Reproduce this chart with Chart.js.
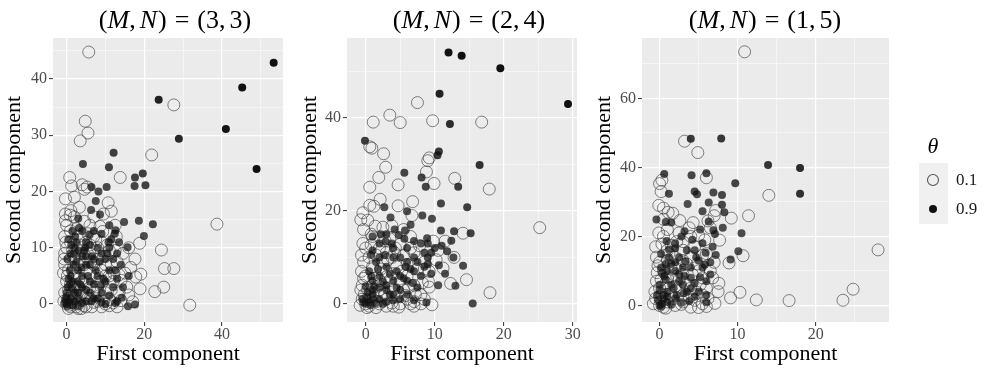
<!DOCTYPE html>
<html>
<head>
<meta charset="utf-8">
<script src="https://cdn.jsdelivr.net/npm/chart.js@4.4.1/dist/chart.umd.min.js"></script>
<style>
  html, body { margin: 0; padding: 0; background: #fff; }
  #wrap { position: relative; width: 987px; height: 370px; overflow: hidden; }
  #wrap canvas { position: absolute; top: 0; }
</style>
</head>
<body>
<div id="wrap">
  <canvas id="c1" width="296" height="370" style="left:0px"></canvas>
  <canvas id="c2" width="294" height="370" style="left:296px"></canvas>
  <canvas id="c3" width="397" height="370" style="left:590px"></canvas>
</div>
<script>
// ---- data ----
const panelMN = [[3, 3], [2, 4], [1, 5]];
const thetaLabels = ['0.1', '0.9'];

const p1XTicks = [0, 20, 40];
const p1YTicks = [0, 10, 20, 30, 40];
const p2XTicks = [0, 10, 20, 30];
const p2YTicks = [0, 20, 40];
const p3XTicks = [0, 10, 20];
const p3YTicks = [0, 20, 40, 60];

// theta = 0.1 (open circles) / theta = 0.9 (filled), [first, second]
const p1Low = [
  [5.7,44.8],[27.6,35.4],[4.8,32.5],[5.5,30.4],[3.5,29],[21.9,26.5],[13.8,22.5],[0.8,22.5],[1.3,21],[4,21.2],
  [4.6,20.4],[5.3,20.8],[-0.3,18.7],[2,19],[10.7,18],[3.3,17.2],[1.1,16.6],[0.9,15.8],[4.6,14.7],[-0.3,14.8],
  [2.6,13.4],[8.6,13.8],[9.3,12.9],[12.5,14],[38.7,14.2],[24.4,9.6],[25.2,6.3],[27.6,6.3],[18.8,10.8],[17.6,8],
  [19.1,5.3],[17.8,4.8],[18.9,2.7],[22.7,2.2],[25,3],[31.7,-0.2],[13.5,5.2],[12.2,5.5],[14,4.2],[14,0.6],
  [16,1.6],[17,0.4],[11.5,2.5],[9.5,0.5],[15.5,3],[13,7.5],[10.5,10.5],[7.5,11.5],
  [0,10],[-0.5,9],[-0.6,8],[1,11],[3,12],[5,11],[7,12],[6,9],[9,11],[11,9.5],[12.8,12],[-0.5,7],
  [1,8],[3,7],[5,6],[7,7],[9,6],[11,5],[0,4],[2,3],[4,2],[6,1],[8,0.5],[10,0],[12,0.2],[0,0],
  [1,-0.5],[3,0],[5,-0.5],[7,0.3],[-0.5,2],[2,5],[4,4],[6,3],[8,3],[10,2],[1,13],[-0.5,12],[-0.3,16],
  [0.5,6],[1.5,2],[2.5,-0.5],[3.5,1.5],[4.5,-0.3],[6.5,-0.5],[8.5,1.5],[9,4],[11,0.8],[2,8.5],[4,9.5],
  [0.3,1],[1,3.5],[-0.7,0.5],[0.5,-0.8],[2,1],[3,3],[5,2],[6,5.5],[8,8],[10,7],[4.5,7],[12,4],
  [0.2,5],[1.8,6.5],[3.2,4.5],[4.8,8.5],[6.2,7.5],[7.8,5],[9.5,8.5],[11.5,7],[12.5,9.5],[13.5,2],
  [15,5.5],[16.5,6.5],[0.5,2.5],[2.5,1.5],[5.5,1],[7,2],[8.5,4],[10,5],[1.5,9.5],[3.5,10.5],
  [5.5,12.5],[0,14],[2,15.5],[6,14],[8,10],[-0.8,5.5],[-0.2,11],[1.2,0.3],[3.8,-0.8],[9,-0.5],
  [11,-0.3],[13,-0.5],[14.5,9],[16,10],[7,15.5],[9.5,16],[11.5,16.5],[3,-0.8],[0.8,-0.2],[6,10.5]
];
const p1High = [
  [53.3,42.9],[45.2,38.5],[23.7,36.3],[41,31.1],[28.9,29.4],[48.9,24],[12.1,26.9],[4.2,24.9],[10.9,24.3],[17.6,22.5],
  [19.6,23.2],[17.5,21],[20.3,21.1],[6.4,20.8],[8.2,20],[10.3,20.8],[7.5,18.3],[6.3,16.7],[8.6,15.9],[12.6,13.1],
  [14.8,14.6],[18.6,14.8],[22.2,14.2],[19.9,12.1],[3,15.2],[15.7,10.1],[12.4,12.5],[10.8,11],[14.2,1.1],[15.8,-0.4],
  [17.6,-0.1],[1,9],[2,10],[3,9.5],[4,8.5],[5,8.5],[6,10.5],[3,6],[5,7],[7,8],[9,9],[10,8],[11,10],[12,8],
  [13,9],[14,7],[8,5],[6,4],[4,3],[2,2],[0,0],[1,1],[0.5,0.3],[2,0.5],[3,1],[5,0.5],[7,1],[9,2],[10,4],
  [12,3],[6,2],[4,5],[1,5],[0,2],[0.3,3],[0.8,6],[1.5,13],[7,13],[9,12.5],[11,14],[5,11],[8,1],[13,0.5],
  [4,13],[2.5,11],[10,0],[-0.3,0.8],[0.2,-0.3],[1.5,-0.2],[3.5,3.5],[5.5,5],[7,3.5],[2.5,7.5],[0.5,11.5],
  [1.5,4],[4,0.2],[6,7],[8,10],[11,6],[12.5,0.2],[3,2],
  [0.8,3.5],[1.8,7],[2.8,4],[3.8,6.5],[4.8,10],[6.5,8.5],[7.5,6],[8.5,7.5],[9.5,4.5],[10.5,9],
  [11.5,11.5],[12.5,6],[13.5,11],[0.2,8],[1.2,10.5],[2.2,12],[3.2,13.5],[0.5,4.5],[1.5,2.8],[3,-0.3],
  [5,2.5],[6.5,0.5],[9,0.3],[11,1.5],[13,4.5],[14.5,3],[16,5],[0,1.2],[-0.5,0.2],[2,8.8],[4.5,9.5],
  [5.8,12.3],[8.8,3.3]
];

const p2Low = [
  [25.2,16.4],[7.5,43.3],[3.5,40.6],[1.1,39.1],[5,39],[9.7,39.4],[16.8,39.1],[0.6,33.8],[0.9,33.5],[2.6,32.3],
  [2.9,29.4],[9,30.8],[9.2,31.4],[8.8,28.4],[9.9,25.9],[4.7,25.6],[0.6,25.1],[1.9,27.2],[12.9,27],[17.9,24.7],
  [2.1,22.5],[0.6,21.2],[1.2,21],[4.7,21.1],[6.8,22],[-0.4,19.6],[-0.7,18.1],[0.3,18],[1.4,16.7],[2.5,16.5],
  [3.8,16.8],[6.7,19],[-0.3,16],[-0.4,13],[0.8,12.7],[2.8,13.6],[4.3,12],[6.5,12],[7,11],[14.1,15.2],
  [12.8,10],[11.2,7.7],[12.3,4.4],[14.6,5.2],[18,2.4],[9.2,3.6],[9.1,4.8],[9.6,-0.2],[9.8,13.5],[8.5,7.5],[5.5,16],
  [0,0],[-0.5,1],[0.5,-0.5],[1,2],[2,0],[3,1],[4,-0.5],[5,0],[6,1],[7,0.5],[-0.5,4],[0,6],[1,8],[-0.3,9],
  [2,5],[3,7],[4,3],[5,5],[6,6],[7,4],[8,2],[7.5,7.5],[8.5,9],[5.5,10.5],[3,11],[1.5,10.5],[0,12],[-0.7,3],
  [1,4],[2,3],[3.5,5],[8,0],[6.5,0],[-0.6,7],[0.5,10],[2.5,9],[4.5,8],[6,8.5],[3,-0.5],[1.5,-0.8],[4.5,1.5],
  [5.5,3],[-0.2,2],[0.8,0.8],[2.3,1.8],[1,14.5],[3.5,14],
  [0.3,3],[1.2,5.5],[2.2,7.5],[3.2,9.5],[4.2,11],[5.2,7],[6.2,3.5],[7.2,2],[8.2,4.5],[9.2,7],
  [10.2,9.5],[0.8,15],[2,12],[3.8,10],[5,12.8],[6.5,14.5],[7.8,12.5],[10.5,11.5],[11.5,13.5],[-0.6,10.5],
  [-0.3,5.5],[0.4,1.5],[1.6,0.5],[2.8,2.2],[3.8,0.2],[4.8,-0.7],[5.8,1.8],[7,-0.5],[8.5,1],[1.8,3.8],
  [3,5.8],[-0.8,-0.3],[0.2,-0.8],[4,6.5]
];
const p2High = [
  [29.3,43],[12,54.1],[13.9,53.4],[19.5,50.7],[10.7,45.2],[12.2,38.7],[-0.1,35.1],[10.6,32.8],[10.4,32],[16.5,29.9],
  [5.6,28.2],[8.1,27.2],[8.7,25.2],[13.4,25.2],[10.9,21.6],[14.7,20.8],[2.7,20.8],[6,19.9],[8.2,19],[9.6,18.3],
  [3.6,18.6],[4.2,16],[5.7,15.8],[10.9,15.8],[12.8,15.6],[15.2,15.2],[8.9,14.1],[12.4,13.6],[2.9,13.4],[5.6,14],
  [11.8,11.3],[12.7,10],[14.1,8.2],[10.6,8.3],[13,3.9],[15.5,0.1],[8.8,0.3],[7,13.5],[9.5,11],[11,12.5],[6.5,17],
  [0,0],[0.5,0.5],[1,2],[2,1],[3,3],[4,2],[5,1],[1,5],[2,6],[3,8],[4,10],[1.5,9],[2,10],[5,10],[6,9],
  [7,7],[8,6],[6,5],[4,5],[3,4],[1,3],[0.5,7],[2,13],[1,14.5],[3,15],[4,12],[6,12],[8,13],[9,13],[9,10],
  [10,12],[7,10],[5,3],[6,2],[3,0.5],[1,1],[-0.3,0.3],[0.2,1.5],[2,3.5],[4.5,7],[7.5,3.5],[8.5,8],[0.8,10.5],
  [3.5,6.5],[2.5,0],
  [0.3,2.5],[1.2,3.8],[2.5,4.8],[3.5,2],[4.5,3.5],[5.5,5.5],[6.5,7.5],[7.5,9],[8.5,11],[9.5,6.5],
  [10.5,4],[1.8,7.5],[2.8,10.5],[3.8,13],[4.8,14.8],[5.8,8],[6.8,4.5],[0.8,6],[0,3.8],[1.5,0.2],
  [4,0.8],[5,6],[7,0.8],[9,8.5],[11.5,6.5],[2.2,15],[1,11.5],[-0.5,1],[0.7,-0.3]
];

const p3Low = [
  [10.9,73.5],[3.2,47.6],[4.9,44.3],[14,31.9],[11.4,26],[9.2,25.3],[28,16.1],[24.8,4.7],[23.5,1.5],[16.6,1.4],
  [12.4,1.6],[10.3,3.8],[9.1,2.2],[7.1,0.6],[10.7,14.4],[8.9,12.3],[7.6,6.4],[7.7,18.9],[6,37],[0.3,36.3],
  [0,35.3],[0.2,33],[-0.1,29],[0.5,28.2],[1.1,27],[1.7,26.7],[2.6,24.6],[4.3,24],[7,26],[6.5,22.5],
  [5.8,19],[4,20],[5,20.3],[1,22],[-0.1,21],[0.3,17.8],[1.5,17.4],[2.2,18.5],[-0.4,14],[0,12.5],
  [1,13],[4,14],[6,15],[7,12.5],[5,10],[3,9],[1,8],[-0.4,7],[0,5],[2,5.5],[4,5],[5.5,3],[6,5],[-0.5,2],
  [0,0],[0.5,-0.5],[1,1],[2,0],[3,1],[4,-0.5],[6,-0.3],[0.5,10],[2,11],[3.5,12],[7.2,27.5],[6.2,24.5],
  [5.5,8],[-0.3,9.5],[1.5,3],[3,3],[4.5,1.5],[-0.6,4],[0.8,6.5],[2.5,7.5],[4.8,12],[6.5,10],[5.5,0.5],
  [3,16],[1.2,15],
  [0.3,3],[1.2,5],[2.2,8.5],[3.2,6.5],[4.2,9],[5.2,6],[6.2,2],[1,16],[2,14],[3,13],
  [4.5,17],[5.5,14.5],[0.5,20],[2.5,21],[3.8,22.5],[1.8,2],[2.8,0.3],[3.8,2.5],[4.8,3.8],[0.2,7.5],
  [-0.2,11.5],[1.5,10.5],[0,2.5],[-0.8,0.5],[0.8,-0.8],[5,-0.6],[3,18.5],[6.8,8],[7.5,4],[0.5,25],[-0.5,17]
];
const p3High = [
  [4,48.3],[7.9,48.4],[13.9,40.7],[18,39.8],[18,32.4],[0.6,38.1],[4.1,37.7],[6,38.3],[9.7,35.4],[4.5,33],
  [4.8,32.2],[1.2,32.4],[6.9,32.7],[8,32],[3.6,29.4],[6.3,29.8],[8,29.2],[5.5,27.3],[8.3,27],[-0.4,24.9],
  [0.8,24.2],[6.3,24.3],[6.9,21.8],[7.1,20.7],[8.1,22.5],[10.5,20.9],[0.9,18.7],[1.2,16.2],[2,16.6],[0.2,14.9],
  [6.8,17],[5.5,18],[5.9,15.3],[7.2,14.6],[10.1,15.7],[9.1,13.3],[4.7,14],[3.3,12.8],[2,10],[4,8],
  [2.5,7],[5.2,8.2],[6,7],[1.8,5],[3.1,3.5],[6,0.9],
  [0,0],[0.3,0.5],[0.5,2],[1,4],[0,6],[0.8,7.5],[1,10],[0.2,11],[1.5,12],[2.5,14],[3,11],[1,1],[2,2],
  [3,6],[4,11],[4.5,16],[5,13],[3.5,16],[2.8,20],[1.5,24],[2.2,3],[4,5],[5,4],[6.5,9],[-0.2,1.5],
  [0.6,8.5],[1.5,0.2],[3.8,1.2],
  [0.5,3],[1.5,6],[2.5,9],[3.5,4],[4.5,6.5],[5.5,11],[6,3],[0.3,9.5],[1.2,14],[2,18],
  [3.2,21.5],[4.2,19],[5.2,22],[0,4.5],[1,2.5],[2.8,0.8],[4.5,2.5],[3.2,8.5],[2,12.5],[0.8,12],
  [-0.3,3],[0.2,-0.3],[5.8,11.8],[6.5,12.5]
];

// ---- layout / style ----
const SERIF = '"Liberation Serif", "Times New Roman", serif';
const PANEL_BG = '#EBEBEB';

const panels = [
  { id: 'c1', low: p1Low, high: p1High, xTicks: p1XTicks, yTicks: p1YTicks,
    xMin: -3.5, xMax: 55.7, yMin: -3.2, yMax: 47.3, yAxisW: 53, padRight: 13, titleX: 175 },
  { id: 'c2', low: p2Low, high: p2High, xTicks: p2XTicks, yTicks: p2YTicks,
    xMin: -2.7, xMax: 30.6, yMin: -3.9, yMax: 57.2, yAxisW: 51, padRight: 13, titleX: 173 },
  { id: 'c3', low: p3Low, high: p3High, xTicks: p3XTicks, yTicks: p3YTicks,
    xMin: -2.25, xMax: 29.4, yMin: -4.8, yMax: 77.5, yAxisW: 52, padRight: 98, titleX: 175, legend: true }
];

function toXY(arr) {
  return arr.map(p => ({ x: p[0], y: p[1] }));
}

// majors plus the ggplot-style minor breaks half-way between them
function allBreaks(majors, min, max) {
  const step = majors[1] - majors[0];
  const out = majors.slice();
  for (let i = -1; i < majors.length; i++) {
    const v = majors[0] + step * i + step / 2;
    if (v >= min && v <= max) out.push(v);
  }
  return out.sort((a, b) => a - b);
}

// points further out come out darker, like the reference
function darkFill(c) {
  const p = c.raw;
  if (!p) return 'rgba(17,17,17,0.75)';
  const sc = c.chart.scales;
  const r = Math.min(1, Math.hypot(p.x / sc.x.max, p.y / sc.y.max));
  return 'rgba(17,17,17,' + (0.68 + 0.32 * r * r).toFixed(2) + ')';
}

function drawTitle(ctx, cx, cy, mn) {
  const reg = '26px ' + SERIF, it = 'italic 26px ' + SERIF;
  const segs = [
    ['(', reg, 0], ['M', it, 0], [',', reg, 4], ['N', it, 1], [')', reg, 8],
    ['=', reg, 8], ['(', reg, 0], [String(mn[0]), reg, 0], [',', reg, 4],
    [String(mn[1]), reg, 0], [')', reg, 0]
  ];
  let w = 0;
  segs.forEach(s => { ctx.font = s[1]; w += ctx.measureText(s[0]).width + s[2]; });
  let x = cx - w / 2;
  ctx.fillStyle = '#000';
  ctx.textBaseline = 'middle';
  ctx.textAlign = 'left';
  segs.forEach(s => {
    ctx.font = s[1];
    ctx.fillText(s[0], x, cy);
    x += ctx.measureText(s[0]).width + s[2];
  });
}

function drawLegend(ctx) {
  ctx.save();
  ctx.fillStyle = '#000';
  ctx.textAlign = 'center';
  ctx.textBaseline = 'middle';
  ctx.font = 'italic 22px ' + SERIF;
  ctx.fillText('\u03B8', 343, 147);
  ctx.fillStyle = '#F0F0F0';
  ctx.fillRect(329, 163, 29, 61);
  ctx.beginPath();
  ctx.arc(343, 180, 5.5, 0, Math.PI * 2);
  ctx.strokeStyle = '#555';
  ctx.lineWidth = 1.1;
  ctx.stroke();
  ctx.beginPath();
  ctx.arc(343, 209, 4, 0, Math.PI * 2);
  ctx.fillStyle = '#111';
  ctx.fill();
  ctx.fillStyle = '#1a1a1a';
  ctx.textAlign = 'left';
  ctx.font = '17px ' + SERIF;
  ctx.fillText(thetaLabels[0], 366, 181);
  ctx.fillText(thetaLabels[1], 366, 210);
  ctx.restore();
}

panels.forEach((cfg, idx) => {
  const xMaj = cfg.xTicks, yMaj = cfg.yTicks;
  const isMaj = (list, v) => list.some(m => Math.abs(m - v) < 1e-9);

  const decor = {
    id: 'decor' + idx,
    beforeDraw(chart) {
      const a = chart.chartArea, ctx = chart.ctx;
      ctx.save();
      ctx.fillStyle = PANEL_BG;
      ctx.fillRect(a.left, a.top, a.right - a.left, a.bottom - a.top);
      ctx.restore();
    },
    afterDraw(chart) {
      const ctx = chart.ctx;
      ctx.save();
      drawTitle(ctx, cfg.titleX, 21, panelMN[idx]);
      ctx.restore();
      if (cfg.legend) drawLegend(ctx);
    }
  };

  new Chart(document.getElementById(cfg.id), {
    type: 'scatter',
    data: {
      datasets: [
        {
          label: thetaLabels[1],
          data: toXY(cfg.high),
          pointRadius: 4,
          pointHoverRadius: 4,
          pointBorderWidth: 0,
          pointBackgroundColor: darkFill
        },
        {
          label: thetaLabels[0],
          data: toXY(cfg.low),
          pointRadius: 6,
          pointHoverRadius: 6,
          pointBorderWidth: 1,
          pointBackgroundColor: 'rgba(0,0,0,0)',
          pointBorderColor: 'rgba(51,51,51,0.6)'
        }
      ]
    },
    options: {
      responsive: false,
      animation: false,
      events: [],
      layout: { padding: { left: 0, top: 38, right: cfg.padRight, bottom: 0 } },
      plugins: { legend: { display: false }, tooltip: { enabled: false } },
      scales: {
        x: {
          type: 'linear',
          min: cfg.xMin,
          max: cfg.xMax,
          border: { display: false },
          afterBuildTicks: s => { s.ticks = allBreaks(xMaj, cfg.xMin, cfg.xMax).map(v => ({ value: v })); },
          afterFit: s => { s.height = 48; },
          grid: {
            color: '#fff',
            lineWidth: c => (isMaj(xMaj, c.tick.value) ? 1.2 : 0.5),
            tickColor: c => (isMaj(xMaj, c.tick.value) ? '#333' : 'rgba(0,0,0,0)'),
            tickWidth: 1,
            tickLength: 4
          },
          ticks: {
            autoSkip: false,
            maxRotation: 0,
            padding: 1,
            color: '#4D4D4D',
            font: { family: SERIF, size: 16, lineHeight: 1 },
            callback: v => (isMaj(xMaj, v) ? String(v) : '')
          },
          title: {
            display: true,
            text: 'First component',
            color: '#000',
            font: { family: SERIF, size: 22 },
            padding: { top: 0, bottom: 3 }
          }
        },
        y: {
          type: 'linear',
          min: cfg.yMin,
          max: cfg.yMax,
          border: { display: false },
          afterBuildTicks: s => { s.ticks = allBreaks(yMaj, cfg.yMin, cfg.yMax).map(v => ({ value: v })); },
          afterFit: s => { s.width = cfg.yAxisW; },
          grid: {
            color: '#fff',
            lineWidth: c => (isMaj(yMaj, c.tick.value) ? 1.2 : 0.5),
            tickColor: c => (isMaj(yMaj, c.tick.value) ? '#333' : 'rgba(0,0,0,0)'),
            tickWidth: 1,
            tickLength: 4
          },
          ticks: {
            autoSkip: false,
            padding: 2,
            color: '#4D4D4D',
            font: { family: SERIF, size: 16, lineHeight: 1 },
            callback: v => (isMaj(yMaj, v) ? String(v) : '')
          },
          title: {
            display: true,
            text: 'Second component',
            color: '#000',
            font: { family: SERIF, size: 22 },
            padding: { top: 1, bottom: 0 }
          }
        }
      }
    },
    plugins: [decor]
  });
});
</script>
</body>
</html>
